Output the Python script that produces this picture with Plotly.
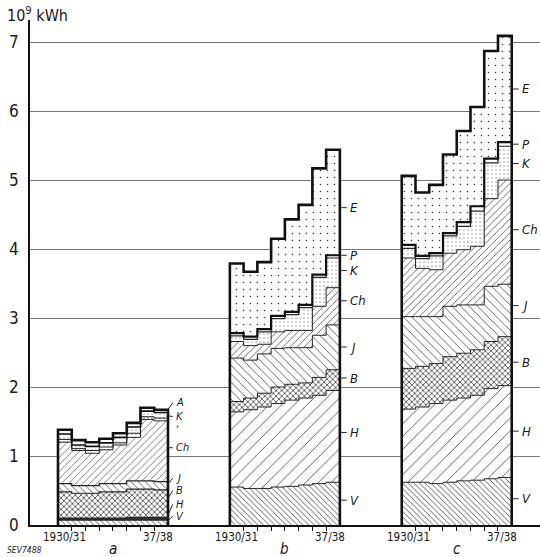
import plotly.graph_objects as go

# ---------------- data (10^9 kWh, layer thickness, bottom to top) ----------------
years = ["1930/31", "31/32", "32/33", "33/34", "34/35", "35/36", "36/37", "37/38"]
group_names = ["a", "b", "c"]

# group a
a_V = [0.07, 0.07, 0.07, 0.07, 0.07, 0.07, 0.07, 0.07]
a_H = [0.03, 0.03, 0.03, 0.03, 0.03, 0.04, 0.04, 0.04]
a_B = [0.38, 0.36, 0.36, 0.38, 0.38, 0.41, 0.41, 0.40]
a_J = [0.12, 0.11, 0.11, 0.12, 0.12, 0.12, 0.12, 0.12]
a_Ch = [0.60, 0.51, 0.47, 0.49, 0.56, 0.63, 0.89, 0.88]
a_X = [0.04, 0.03, 0.04, 0.04, 0.03, 0.06, 0.04, 0.04]
a_K = [0.08, 0.05, 0.06, 0.06, 0.08, 0.09, 0.08, 0.08]
a_A = [0.06, 0.07, 0.06, 0.06, 0.06, 0.06, 0.05, 0.04]

# group b
b_V = [0.55, 0.53, 0.53, 0.55, 0.56, 0.58, 0.60, 0.62]
b_H = [1.09, 1.14, 1.18, 1.21, 1.25, 1.26, 1.28, 1.33]
b_B = [0.15, 0.17, 0.20, 0.24, 0.23, 0.22, 0.26, 0.30]
b_J = [0.63, 0.55, 0.57, 0.56, 0.53, 0.51, 0.61, 0.65]
b_Ch = [0.24, 0.21, 0.14, 0.24, 0.25, 0.25, 0.42, 0.54]
b_K = [0.08, 0.09, 0.18, 0.19, 0.23, 0.33, 0.42, 0.43]
b_P = [0.04, 0.04, 0.04, 0.04, 0.04, 0.04, 0.04, 0.04]
b_E = [1.01, 0.94, 0.97, 1.12, 1.34, 1.45, 1.54, 1.53]

# group c
c_V = [0.62, 0.62, 0.60, 0.62, 0.64, 0.65, 0.67, 0.69]
c_H = [1.06, 1.09, 1.16, 1.19, 1.20, 1.23, 1.31, 1.33]
c_B = [0.59, 0.59, 0.58, 0.63, 0.65, 0.66, 0.68, 0.71]
c_J = [0.75, 0.72, 0.68, 0.73, 0.70, 0.65, 0.80, 0.76]
c_Ch = [0.85, 0.70, 0.68, 0.77, 0.80, 0.85, 1.27, 1.51]
c_K = [0.14, 0.14, 0.20, 0.25, 0.34, 0.51, 0.52, 0.49]
c_P = [0.05, 0.04, 0.04, 0.04, 0.06, 0.07, 0.06, 0.06]
c_E = [1.00, 0.92, 0.99, 1.14, 1.32, 1.44, 1.56, 1.54]

layers_a = ["V", "H", "B", "J", "Ch", "ʼ", "K", "A"]
layers_bc = ["V", "H", "B", "J", "Ch", "K", "P", "E"]
values = {
    "a": [a_V, a_H, a_B, a_J, a_Ch, a_X, a_K, a_A],
    "b": [b_V, b_H, b_B, b_J, b_Ch, b_K, b_P, b_E],
    "c": [c_V, c_H, c_B, c_J, c_Ch, c_K, c_P, c_E],
}

# label heights (layout positions of the right-hand labels)
label_y_a = [0.13, 0.30, 0.50, 0.68, 1.12, 1.39, 1.57, 1.77]
attach_y_a = [0.04, 0.10, 0.35, 0.57, 1.12, 1.39, 1.59, 1.65]
label_y_b = [0.36, 1.34, 2.13, 2.58, 3.25, 3.69, 3.91, 4.60]
label_y_c = [0.38, 1.36, 2.36, 3.18, 4.28, 5.24, 5.52, 6.32]

# ---------------- styling ----------------
INK = "#262626"
group_offset = {"a": 0.0, "b": 12.5, "c": 25.0}


def pat(shape, size, sol):
    return dict(shape=shape, size=size, solidity=sol, fgcolor="#3a3a3a",
                bgcolor="white", fillmode="replace")


style_bc = {
    "V": pat("\\", 4, 0.2), "H": pat("/", 9, 0.09), "B": pat("x", 4, 0.35),
    "J": pat("\\", 6, 0.13), "Ch": pat("/", 5, 0.15), "K": pat(".", 4, 0.07),
    "P": None, "E": pat(".", 7, 0.04),
}
style_a = {
    "V": pat("\\", 4, 0.2), "H": "solid", "B": pat("x", 4, 0.35),
    "J": pat("\\", 5, 0.15), "Ch": pat("/", 5, 0.13), "ʼ": pat(".", 4, 0.08),
    "K": pat(".", 4, 0.07), "A": None,
}
widths_bc = [1.0, 1.0, 1.0, 1.0, 1.0, 1.2, 2.2, 2.6]
widths_a = [1.4, 1.2, 1.2, 1.2, 1.0, 1.0, 1.6, 2.6]

fig = go.Figure()
tick_x = []
annotations = []
shapes = []

for g in group_names:
    off = group_offset[g]
    xs = [off + i for i in range(len(years))]
    edges = [off + i - 0.5 for i in range(len(years) + 1)]
    tick_x += edges[1:-1]
    names = layers_a if g == "a" else layers_bc
    styles = style_a if g == "a" else style_bc
    widths = widths_a if g == "a" else widths_bc
    cum = [0.0] * len(years)
    for li, (name, vals) in enumerate(zip(names, values[g])):
        st = styles[name]
        if st is None:
            marker = dict(color="white", line=dict(width=0))
        elif st == "solid":
            marker = dict(color="#333333", line=dict(width=0))
        else:
            marker = dict(color="white", pattern=st, line=dict(width=0))
        fig.add_trace(go.Bar(x=xs, y=vals, width=1.0, marker=marker,
                             name=f"{g} {name}", showlegend=False,
                             hovertemplate=f"{g} {name}: %{{y}}<extra></extra>"))
        cum = [c + v for c, v in zip(cum, vals)]
        last = li == len(names) - 1
        if last:
            lx = [edges[0]] + edges + [edges[-1]]
            ly = [0.0] + cum + [cum[-1], 0.0]
        else:
            lx = edges
            ly = cum + [cum[-1]]
        fig.add_trace(go.Scatter(x=lx, y=ly, mode="lines",
                                 line=dict(shape="hv", color="#111" if widths[li] > 1.5 else INK,
                                           width=widths[li]),
                                 hoverinfo="skip", showlegend=False))
    # year labels under group
    annotations.append(dict(x=xs[0], y=-0.024, xref="x", yref="paper", text=years[0],
                            showarrow=False, font=dict(size=11.5), yanchor="middle"))
    annotations.append(dict(x=xs[-1] - 0.2, y=-0.024, xref="x", yref="paper", text=years[-1],
                            showarrow=False, font=dict(size=11.5), yanchor="middle"))
    annotations.append(dict(x=(xs[0] + xs[-1]) / 2, y=-0.048, xref="x", yref="paper",
                            text=g, showarrow=False,
                            font=dict(size=15, style="italic"), yanchor="middle"))
    # right-hand labels
    right = edges[-1]
    if g == "a":
        for name, ly_, ay in zip(names, label_y_a, attach_y_a):
            if name != "ʼ":
                shapes.append(dict(type="line", xref="x", yref="y", x0=right - 0.1, y0=ay,
                                   x1=right + 0.35, y1=ly_, line=dict(color=INK, width=1)))
            annotations.append(dict(x=right + 0.42, y=ly_, xref="x", yref="y", text=name,
                                    showarrow=False, xanchor="left", yanchor="middle",
                                    font=dict(size=11, style="italic")))
    else:
        ly_list = label_y_b if g == "b" else label_y_c
        for name, ly_ in zip(names, ly_list):
            shapes.append(dict(type="line", xref="x", yref="y", x0=right + 0.1, y0=ly_,
                               x1=right + 0.5, y1=ly_, line=dict(color=INK, width=1)))
            annotations.append(dict(x=right + 0.6, y=ly_, xref="x", yref="y", text=name,
                                    showarrow=False, xanchor="left", yanchor="middle",
                                    font=dict(size=13, style="italic")))

annotations.append(dict(x=-0.049, y=1.01, xref="paper", yref="paper", text="10<sup>9</sup> kWh",
                        showarrow=False, xanchor="left", yanchor="middle", font=dict(size=16)))
annotations.append(dict(x=-0.049, y=-0.05, xref="paper", yref="paper", text="SEV7488",
                        showarrow=False, xanchor="left", yanchor="middle",
                        font=dict(size=8.5, style="italic")))

fig.update_layout(
    width=540, height=557,
    margin=dict(l=30, r=0, t=20, b=32, autoexpand=False),
    barmode="stack", bargap=0,
    plot_bgcolor="white", paper_bgcolor="white",
    font=dict(family="DejaVu Sans Condensed, Liberation Sans, DejaVu Sans", color="#1a1a1a"),
    xaxis=dict(range=[-2.536, 34.555], showgrid=False, zeroline=False, automargin=False,
               showline=True, linecolor="#111", linewidth=1.6,
               tickvals=tick_x, ticks="outside", ticklen=4, tickcolor="#111",
               tickwidth=1, showticklabels=False, fixedrange=True),
    yaxis=dict(range=[0, 7.32], tickvals=[0, 1, 2, 3, 4, 5, 6, 7], ticks="",
               automargin=False,
               showgrid=True, gridcolor="#777", gridwidth=1, zeroline=False,
               showline=True, linecolor="#111", linewidth=1.6,
               tickfont=dict(size=17), ticklabelstandoff=6, fixedrange=True),
    annotations=annotations,
    shapes=shapes,
)

fig.write_html(
    "out.html",
    config={"displayModeBar": False},
    post_script="document.body.style.margin='0';document.body.style.overflow='hidden';",
)
